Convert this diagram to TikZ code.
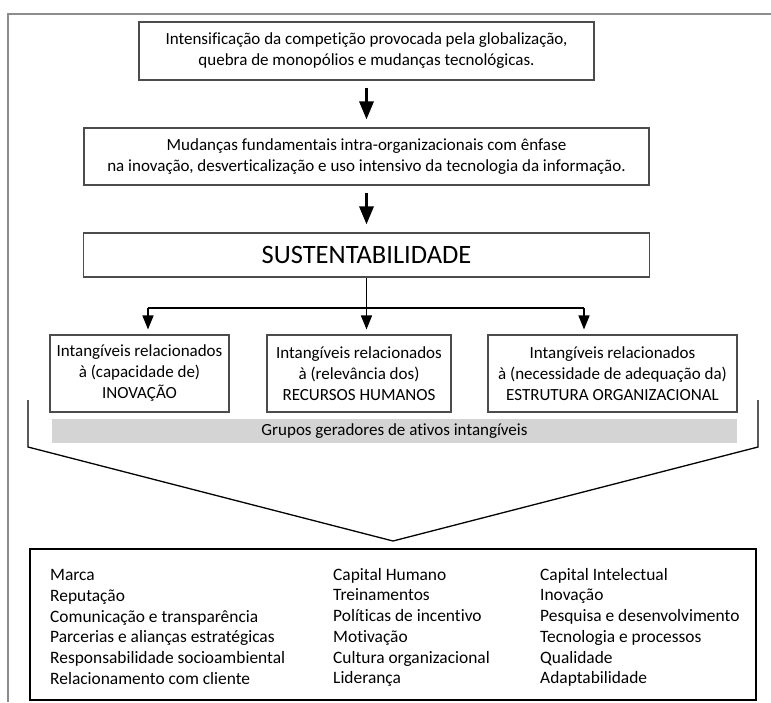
\documentclass[tikz,border=0pt]{standalone}
\usepackage{fontspec}
\setmainfont{Carlito}[Ligatures=NoCommon]
\usetikzlibrary{arrows.meta}

\begin{document}
\begin{tikzpicture}[x=1pt, y=-1pt,
        caixa/.style={draw=black!70, line width=1.1pt, align=center, inner sep=0pt, font=\fontsize{17}{21}\selectfont},
        grupo/.style={caixa, minimum height=77pt, execute at begin node={\rule{0pt}{20pt}}},
        seta/.style={-{Triangle[width=14pt, length=18pt]}, line width=3pt, shorten <=7pt, shorten >=8pt},
        ramo/.style={-{Triangle[width=11pt, length=14pt]}, line width=1.5pt, shorten >=5pt},
        lista/.style={anchor=north west, align=left, inner sep=0pt, font=\fontsize{17.4}{20.7}\selectfont}]
    \useasboundingbox (0,0) rectangle (771,702);

    % Moldura
    \draw[black!45, line width=2pt] (771,14) -- (8,14) -- (8,702);

    % Caixas principais
    \node[caixa, minimum width=455pt, minimum height=58pt] (comp) at (366.5,51) {Intensificação da competição provocada pela globalização,\\quebra de monopólios e mudanças tecnológicas.};
    \node[caixa, minimum width=565pt, minimum height=57pt] (mud) at (366.5,156.5) {Mudanças fundamentais intra-organizacionais com ênfase\\na inovação, desverticalização e uso intensivo da tecnologia da informação.};
    \node[caixa, minimum width=566pt, minimum height=44pt, font=\fontsize{26.5}{30}\selectfont] (sust) at (366.5,255) {SUSTENTABILIDADE};

    \draw[seta] (comp) -- (mud);
    \draw[seta] (mud) -- (sust);

    % Grupos
    \node[grupo, minimum width=179pt] (inov) at (139.5,373.5) {Intangíveis relacionados\\à (capacidade de)\\INOVAÇÃO};
    \node[grupo, minimum width=184pt] (rh) at (359,373.5) {Intangíveis relacionados\\à (relevância dos)\\RECURSOS HUMANOS};
    \node[grupo, minimum width=249pt] (estr) at (612.5,373.5) {Intangíveis relacionados\\à (necessidade de adequação da)\\ESTRUTURA ORGANIZACIONAL};

    % Ramificacao
    \coordinate (ra) at (148,308);
    \coordinate (rc) at (366.5,308);
    \coordinate (rb) at (584,308);
    \draw[line width=1.5pt] (sust.south) -- (rc);
    \draw[line width=1.5pt] (ra) -- (rb);
    \draw[ramo] (ra) -- (ra |- inov.north);
    \draw[ramo] (rc) -- (rc |- rh.north);
    \draw[ramo] (rb) -- (rb |- estr.north);

    % Barra cinzenta
    \node[fill=black!17, minimum width=685pt, minimum height=24pt, inner sep=0pt, font=\fontsize{17}{21}\selectfont] (grupos) at (394.5,431) {Grupos geradores de ativos intangíveis};

    % Funil
    \draw[line width=1.3pt] (28,400) -- (28,447) -- (393,541) -- (758,447) -- (758,400);

    % Ativos
    \node[draw, line width=2.4pt, minimum width=726pt, minimum height=151pt] (ativos) at (393,624.5) {};
    \node[lista] (col1) at (50,569.5) {Marca\\Reputação\\Comunicação e transparência\\Parcerias e alianças estratégicas\\Responsabilidade socioambiental\\Relacionamento com cliente};
    \node[lista] (col2) at (333,568) {Capital Humano\\Treinamentos\\Políticas de incentivo\\Motivação\\Cultura organizacional\\Liderança};
    \node[lista] (col3) at (540,568) {Capital Intelectual\\Inovação\\Pesquisa e desenvolvimento\\Tecnologia e processos\\Qualidade\\Adaptabilidade};
\end{tikzpicture}
\end{document}
